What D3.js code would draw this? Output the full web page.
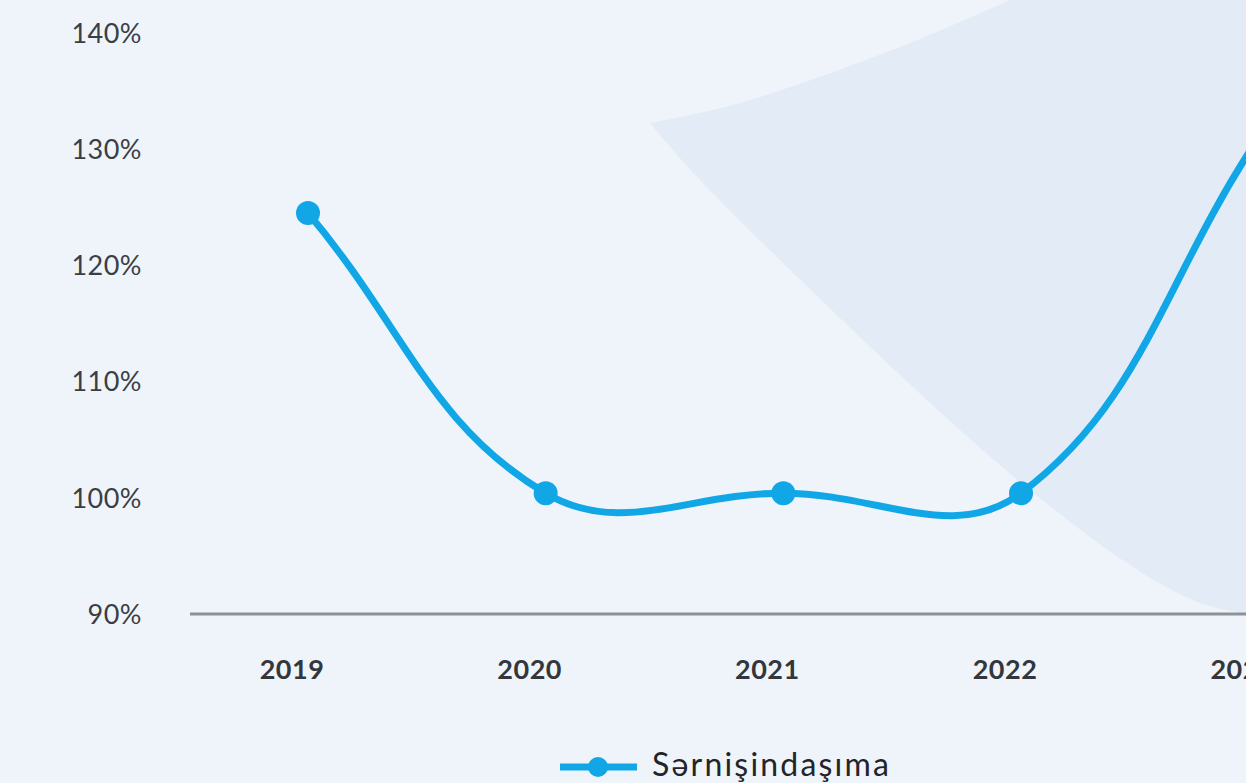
<!DOCTYPE html>
<html><head><meta charset="utf-8">
<script src="https://cdn.jsdelivr.net/npm/d3@7"></script>
<style>
html,body{margin:0;padding:0;background:#eff4fa;overflow:hidden;}
svg{display:block;}
</style></head>
<body>
<svg id="chart" width="1246" height="783"></svg>
<script>
const categories = ["2019", "2020", "2021", "2022", "2023"];
const values = [124.5, 100.4, 100.4, 100.4, 131];
const yTicks = [90, 100, 110, 120, 130, 140];
const seriesName = "Sərnişindaşıma";

const W = 1246, H = 783;
const svg = d3.select("#chart");
const font = "Lato, 'Open Sans', sans-serif";
const lineColor = "#11a7e7";

svg.append("rect").attr("width", W).attr("height", H).attr("fill", "#eff4fa");

// decorative background shape
const lowerEdge = [[650,123],[700,180],[927,400],[1030,490],[1133,567],[1200,603],[1246,614]];
const upperEdge = [[1010,0],[900,47],[740,103],[650,123]];
const bgPath = d3.line().curve(d3.curveCatmullRom);
const shapePath = bgPath(upperEdge) + "L" + bgPath(lowerEdge).slice(1) + "L1246,0Z";
svg.append("path").attr("d", shapePath).attr("fill", "#e3ebf6");

const x = d3.scalePoint().domain(categories).range([308, 1258.7]);
const y = d3.scaleLinear().domain([90, 140]).range([614, 33]);

// y tick labels
svg.append("g").selectAll("text").data(yTicks).join("text")
  .attr("x", 142).attr("y", d => y(d)).attr("dy", "0.36em")
  .attr("text-anchor", "end")
  .attr("font-family", font).attr("font-size", 27).attr("letter-spacing", 0.5).attr("fill", "#3b3e44")
  .text(d => d + "%");

// x axis line
svg.append("line").attr("x1", 190).attr("x2", W).attr("y1", y(90)).attr("y2", y(90))
  .attr("stroke", "#8e9196").attr("stroke-width", 3);

// x labels
svg.append("g").selectAll("text").data(categories).join("text")
  .attr("x", d => x(d) - 16).attr("y", 669).attr("dy", "0.36em")
  .attr("text-anchor", "middle")
  .attr("font-family", font).attr("font-weight", 700).attr("font-size", 27).attr("letter-spacing", 0.5).attr("fill", "#33363b")
  .text(d => d);

// Chart.js-like spline (tension 0.4)
const pts = categories.map((c, i) => [x(c), y(values[i])]);
function splinePath(p, t) {
  const cps = p.map((cur, i) => {
    const prev = p[i - 1] || cur, next = p[i + 1] || cur;
    const d01 = Math.hypot(cur[0]-prev[0], cur[1]-prev[1]);
    const d12 = Math.hypot(next[0]-cur[0], next[1]-cur[1]);
    let s01 = d01 / (d01 + d12), s12 = d12 / (d01 + d12);
    if (isNaN(s01)) s01 = 0; if (isNaN(s12)) s12 = 0;
    const fa = t * s01, fb = t * s12;
    return {
      prev: [cur[0] - fa * (next[0] - prev[0]), cur[1] - fa * (next[1] - prev[1])],
      next: [cur[0] + fb * (next[0] - prev[0]), cur[1] + fb * (next[1] - prev[1])]
    };
  });
  const path = d3.path();
  path.moveTo(p[0][0], p[0][1]);
  for (let i = 1; i < p.length; i++) {
    path.bezierCurveTo(cps[i-1].next[0], cps[i-1].next[1], cps[i].prev[0], cps[i].prev[1], p[i][0], p[i][1]);
  }
  return path.toString();
}
svg.append("path").attr("d", splinePath(pts, 0.4))
  .attr("fill", "none").attr("stroke", lineColor).attr("stroke-width", 7)
  .attr("stroke-linecap", "round");

svg.append("g").selectAll("circle").data(pts).join("circle")
  .attr("cx", d => d[0]).attr("cy", d => d[1]).attr("r", 12).attr("fill", lineColor);

// legend
const lg = svg.append("g");
lg.append("line").attr("x1", 560).attr("x2", 637).attr("y1", 767).attr("y2", 767)
  .attr("stroke", lineColor).attr("stroke-width", 7);
lg.append("circle").attr("cx", 598).attr("cy", 767).attr("r", 10).attr("fill", lineColor);
lg.append("text").attr("x", 652).attr("y", 776)
  .attr("font-family", font).attr("font-size", 32).attr("letter-spacing", 2.2).attr("fill", "#222428")
  .text(seriesName);
</script>
</body></html>
